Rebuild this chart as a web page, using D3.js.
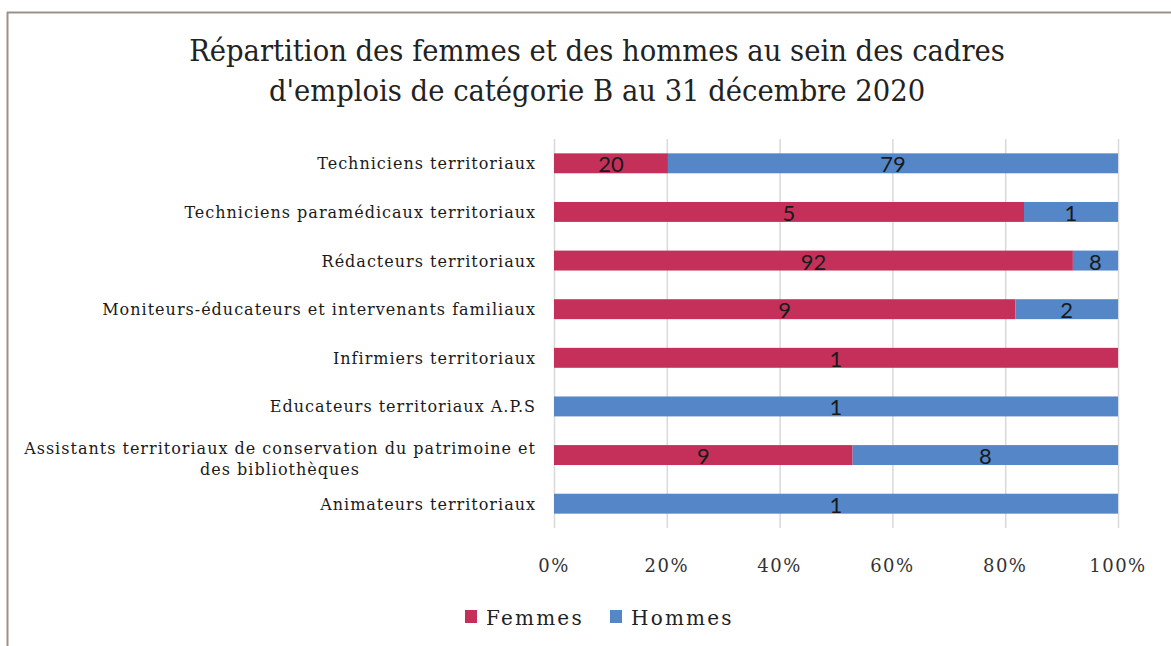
<!DOCTYPE html>
<html>
<head>
<meta charset="utf-8">
<script src="https://cdn.jsdelivr.net/npm/d3@7"></script>
<style>
  body { margin: 0; background: #fff; }
  svg { display: block; }
</style>
</head>
<body>
<svg id="chart" width="1171" height="646"></svg>
<script>
// data (headcounts)
var categories = [
  "Techniciens territoriaux",
  "Techniciens paramédicaux territoriaux",
  "Rédacteurs territoriaux",
  "Moniteurs-éducateurs et intervenants familiaux",
  "Infirmiers territoriaux",
  "Educateurs territoriaux A.P.S",
  "Assistants territoriaux de conservation du patrimoine et|des bibliothèques",
  "Animateurs territoriaux"
];
var femmes = [20, 5, 92, 9, 1, 0, 9, 0];
var hommes = [79, 1, 8, 2, 0, 1, 8, 1];
var seriesNames = ["Femmes", "Hommes"];
var seriesColors = ["#c4305a", "#5586c7"];
var xTicks = [0, 0.2, 0.4, 0.6, 0.8, 1];

var svg = d3.select("#chart"),
  width = +svg.attr("width"),
  height = +svg.attr("height");

var margin = {top: 139, right: 53, bottom: 118, left: 554};
var serifC = "'DejaVu Serif Condensed', 'DejaVu Serif', serif";
var serif = "'DejaVu Serif', serif";

// frame of the chart (only top and left are visible)
svg.append("line").attr("x1", 7).attr("x2", width).attr("y1", 12.5).attr("y2", 12.5)
  .attr("stroke", "#9b918a").attr("stroke-width", 2);
svg.append("line").attr("x1", 7.5).attr("x2", 7.5).attr("y1", 12).attr("y2", height)
  .attr("stroke", "#9b918a").attr("stroke-width", 2);

// title
var title = svg.append("text")
  .attr("text-anchor", "middle")
  .attr("font-family", serifC)
  .attr("font-size", 30.5)
  .attr("fill", "#222");
title.append("tspan").attr("x", 597).attr("y", 61)
  .text("Répartition des femmes et des hommes au sein des cadres");
title.append("tspan").attr("x", 597).attr("y", 101)
  .text("d'emplois de catégorie B au 31 décembre 2020");

// stack the shares
var rows = categories.map(function(c, i) {
  var tot = femmes[i] + hommes[i];
  return {cat: c, vals: [femmes[i], hommes[i]], tot: tot};
});

var x = d3.scaleLinear().domain([0, 1]).range([margin.left, width - margin.right]);
var y = d3.scaleBand().domain(categories).range([margin.top, height - margin.bottom]).paddingInner(0.59).paddingOuter(0.295);

// gridlines
svg.append("g").selectAll("line").data(xTicks).enter().append("line")
  .attr("x1", function(d) { return x(d) + 0.5; })
  .attr("x2", function(d) { return x(d) + 0.5; })
  .attr("y1", margin.top)
  .attr("y2", height - margin.bottom)
  .attr("stroke", "#d9d9d9")
  .attr("stroke-width", 1.5);

// bars
var segs = [];
rows.forEach(function(r) {
  var acc = 0;
  r.vals.forEach(function(v, k) {
    segs.push({cat: r.cat, k: k, v: v, x0: acc / r.tot, x1: (acc + v) / r.tot});
    acc += v;
  });
});

svg.append("g").selectAll("rect").data(segs.filter(function(d) { return d.v > 0; })).enter().append("rect")
  .attr("x", function(d) { return x(d.x0); })
  .attr("width", function(d) { return x(d.x1) - x(d.x0); })
  .attr("y", function(d) { return y(d.cat); })
  .attr("height", y.bandwidth())
  .attr("fill", function(d) { return seriesColors[d.k]; });

// value labels
svg.append("g").selectAll("text").data(segs.filter(function(d) { return d.v > 0; })).enter().append("text")
  .attr("x", function(d) { return x((d.x0 + d.x1) / 2); })
  .attr("y", function(d) { return y(d.cat) + y.bandwidth() / 2 + 9; })
  .attr("text-anchor", "middle")
  .attr("font-family", "Lato, 'Open Sans', sans-serif")
  .attr("font-size", 22)
  .attr("fill", "#1a1a1a")
  .text(function(d) { return d.v; });

// category labels
var labG = svg.append("g")
  .attr("font-family", serif)
  .attr("font-size", 16)
  .attr("letter-spacing", 1)
  .attr("fill", "#1a1a1a");
categories.forEach(function(c) {
  var parts = c.split("|");
  var cy = y(c) + y.bandwidth() / 2;
  if (parts.length == 1) {
    labG.append("text").attr("x", 536).attr("y", cy + 6)
      .attr("text-anchor", "end").text(c);
  } else {
    var t = labG.append("text").attr("text-anchor", "middle");
    var first = t.append("tspan").attr("y", cy - 1).text(parts[0]);
    var w = first.node().getComputedTextLength();
    t.attr("x", 536 - w / 2);
    first.attr("x", 536 - w / 2);
    t.append("tspan").attr("x", 536 - w / 2).attr("y", cy + 20).text(parts[1]);
  }
});

// x axis tick labels
svg.append("g").selectAll("text").data(xTicks).enter().append("text")
  .attr("x", function(d) { return x(d); })
  .attr("y", 572)
  .attr("text-anchor", "middle")
  .attr("font-family", serif)
  .attr("font-size", 18)
  .attr("letter-spacing", 1.5)
  .attr("fill", "#333")
  .text(d3.format(".0%"));

// legend
var legX = [465, 610];
var leg = svg.append("g").selectAll("g").data(seriesNames).enter().append("g")
  .attr("transform", function(d, i) { return "translate(" + legX[i] + ",0)"; });
leg.append("rect").attr("x", 0).attr("y", 610).attr("width", 12).attr("height", 13)
  .attr("fill", function(d, i) { return seriesColors[i]; });
leg.append("text").attr("x", 21).attr("y", 625)
  .attr("font-family", serif)
  .attr("font-size", 20)
  .attr("letter-spacing", 2.2)
  .attr("fill", "#222")
  .text(function(d) { return d; });
</script>
</body>
</html>
